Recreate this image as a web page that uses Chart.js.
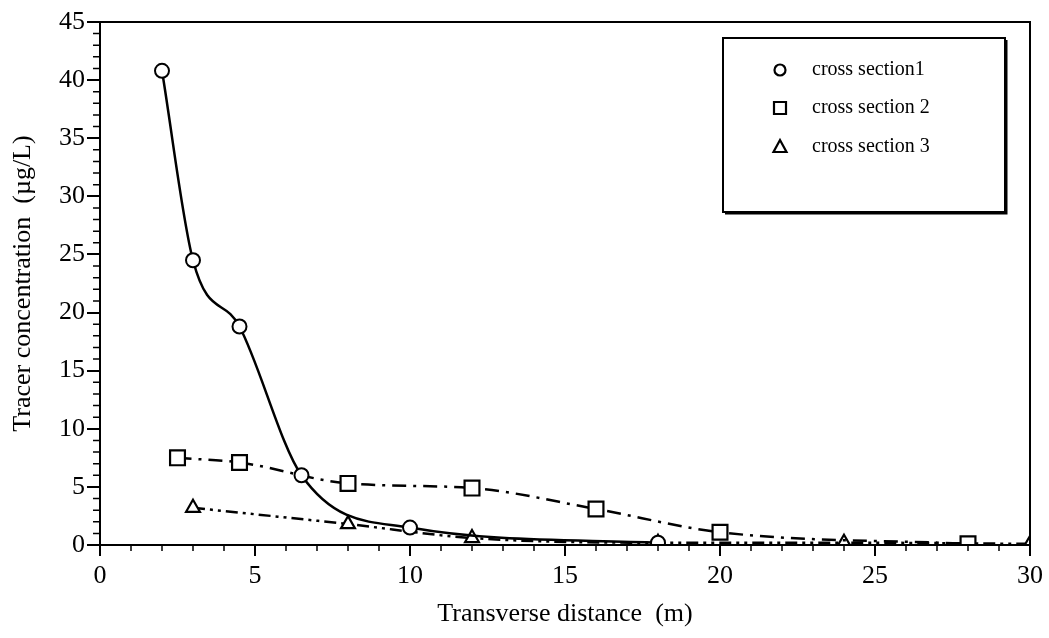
<!DOCTYPE html>
<html>
<head>
<meta charset="utf-8">
<script src="https://cdn.jsdelivr.net/npm/chart.js@4"></script>
<style>
    html, body { margin: 0; padding: 0; background: #fff; }
    #wrap { width: 1049px; height: 638px; }
</style>
</head>
<body>
<div id="wrap"><canvas id="tracerChart"></canvas></div>
<script>
const xSection1 = [2, 3, 4.5, 6.5, 10, 18];
const ySection1 = [40.8, 24.5, 18.8, 6.0, 1.5, 0.2];

const xSection2 = [2.5, 4.5, 8, 12, 16, 20, 28];
const ySection2 = [7.5, 7.1, 5.3, 4.9, 3.1, 1.1, 0.1];

const xSection3 = [3, 8, 12, 18, 24, 30];
const ySection3 = [3.2, 1.8, 0.6, 0.2, 0.2, 0.1];

const seriesNames = ['cross section1', 'cross section 2', 'cross section 3'];
const xTicks = [0, 5, 10, 15, 20, 25, 30];
const yTicks = [0, 5, 10, 15, 20, 25, 30, 35, 40, 45];

const serif = '"Liberation Serif", "DejaVu Serif", serif';

const toPoints = (xs, ys) => xs.map((x, i) => ({ x: x, y: ys[i] }));

// frame around plot area + minor ticks + legend box inside the plot
const framePlugin = {
    id: 'frame',
    afterDraw(chart) {
        const ctx = chart.ctx;
        const a = chart.chartArea;
        const xs = chart.scales.x;
        const ys = chart.scales.y;
        ctx.save();
        ctx.strokeStyle = '#000';
        ctx.lineWidth = 2;
        ctx.strokeRect(a.left, a.top, a.right - a.left, a.bottom - a.top);

        ctx.lineWidth = 1.5;
        ctx.beginPath();
        for (let v = 0; v <= 30; v++) {
            if (v % 5 === 0) continue;
            const px = xs.getPixelForValue(v);
            ctx.moveTo(px, a.bottom);
            ctx.lineTo(px, a.bottom + 6);
        }
        for (let v = 0; v <= 45; v++) {
            if (v % 5 === 0) continue;
            const py = ys.getPixelForValue(v);
            ctx.moveTo(a.left, py);
            ctx.lineTo(a.left - 7, py);
        }
        ctx.stroke();

        // legend
        const bx = 723, by = 38, bw = 282, bh = 174;
        ctx.fillStyle = '#fff';
        ctx.fillRect(bx, by, bw, bh);
        ctx.lineWidth = 2;
        ctx.strokeRect(bx, by, bw, bh);
        ctx.lineWidth = 3;
        ctx.beginPath();
        ctx.moveTo(bx + bw + 1, by + 2);
        ctx.lineTo(bx + bw + 1, by + bh + 1);
        ctx.lineTo(bx + 2, by + bh + 1);
        ctx.stroke();

        const rows = [70, 108, 147];
        ctx.font = '20px ' + serif;
        ctx.textBaseline = 'middle';
        ctx.textAlign = 'left';
        chart.data.datasets.forEach((ds, i) => {
            const mx = 780, my = rows[i];
            ctx.lineWidth = 2.2;
            ctx.strokeStyle = '#000';
            ctx.beginPath();
            if (ds.pointStyle === 'circle') {
                ctx.arc(mx, my, 5.5, 0, Math.PI * 2);
            } else if (ds.pointStyle === 'rect') {
                ctx.rect(mx - 6, my - 6, 12, 12);
            } else {
                ctx.moveTo(mx, my - 7);
                ctx.lineTo(mx + 6.5, my + 5);
                ctx.lineTo(mx - 6.5, my + 5);
                ctx.closePath();
            }
            ctx.stroke();
            ctx.fillStyle = '#000';
            ctx.fillText(ds.label, 812, my);
        });
        ctx.restore();
    }
};

new Chart(document.getElementById('tracerChart'), {
    type: 'scatter',
    data: {
        datasets: [{
            label: seriesNames[0],
            data: toPoints(xSection1, ySection1),
            showLine: true,
            cubicInterpolationMode: 'monotone',
            borderColor: '#000',
            borderWidth: 2.5,
            pointStyle: 'circle',
            pointRadius: 7,
            pointBackgroundColor: '#fff',
            pointBorderColor: '#000',
            pointBorderWidth: 2,
        }, {
            label: seriesNames[1],
            data: toPoints(xSection2, ySection2),
            showLine: true,
            cubicInterpolationMode: 'monotone',
            borderColor: '#000',
            borderWidth: 2.5,
            borderDash: [14, 7, 3, 7],
            pointStyle: 'rect',
            pointRadius: 10.5,
            pointBackgroundColor: '#fff',
            pointBorderColor: '#000',
            pointBorderWidth: 2.2,
        }, {
            label: seriesNames[2],
            data: toPoints(xSection3, ySection3),
            showLine: true,
            cubicInterpolationMode: 'monotone',
            borderColor: '#000',
            borderWidth: 2.5,
            borderDash: [12, 5, 3, 5, 3, 5],
            pointStyle: 'triangle',
            pointRadius: 8,
            pointBackgroundColor: '#fff',
            pointBorderColor: '#000',
            pointBorderWidth: 2.2,
        }],
    },
    options: {
        responsive: true,
        maintainAspectRatio: false,
        animation: false,
        layout: {
            padding: { top: 22, right: 19, left: 0, bottom: 0 },
        },
        plugins: {
            legend: { display: false },
            tooltip: { enabled: false },
        },
        scales: {
            x: {
                type: 'linear',
                min: 0,
                max: 30,
                afterBuildTicks: (scale) => { scale.ticks = xTicks.map(v => ({ value: v })); },
                afterFit: (scale) => { scale.height = 93; },
                ticks: {
                    color: '#000',
                    font: { family: serif, size: 26 },
                    padding: 5,
                    maxRotation: 0,
                },
                grid: {
                    drawOnChartArea: false,
                    color: '#000',
                    lineWidth: 2,
                    tickLength: 11,
                },
                border: { color: '#000', width: 2 },
                title: {
                    display: true,
                    text: 'Transverse distance  (m)',
                    color: '#000',
                    font: { family: serif, size: 26 },
                    padding: { top: 0, bottom: 8 },
                },
            },
            y: {
                type: 'linear',
                min: 0,
                max: 45,
                afterBuildTicks: (scale) => { scale.ticks = yTicks.map(v => ({ value: v })); },
                afterFit: (scale) => { scale.width = 100; },
                ticks: {
                    color: '#000',
                    font: { family: serif, size: 26 },
                    padding: 2,
                },
                grid: {
                    drawOnChartArea: false,
                    color: '#000',
                    lineWidth: 2,
                    tickLength: 13,
                },
                border: { color: '#000', width: 2 },
                title: {
                    display: true,
                    text: 'Tracer concentration  (µg/L)',
                    color: '#000',
                    font: { family: serif, size: 26 },
                    padding: { top: 8, bottom: 0 },
                },
            },
        },
    },
    plugins: [framePlugin],
});
</script>
</body>
</html>
